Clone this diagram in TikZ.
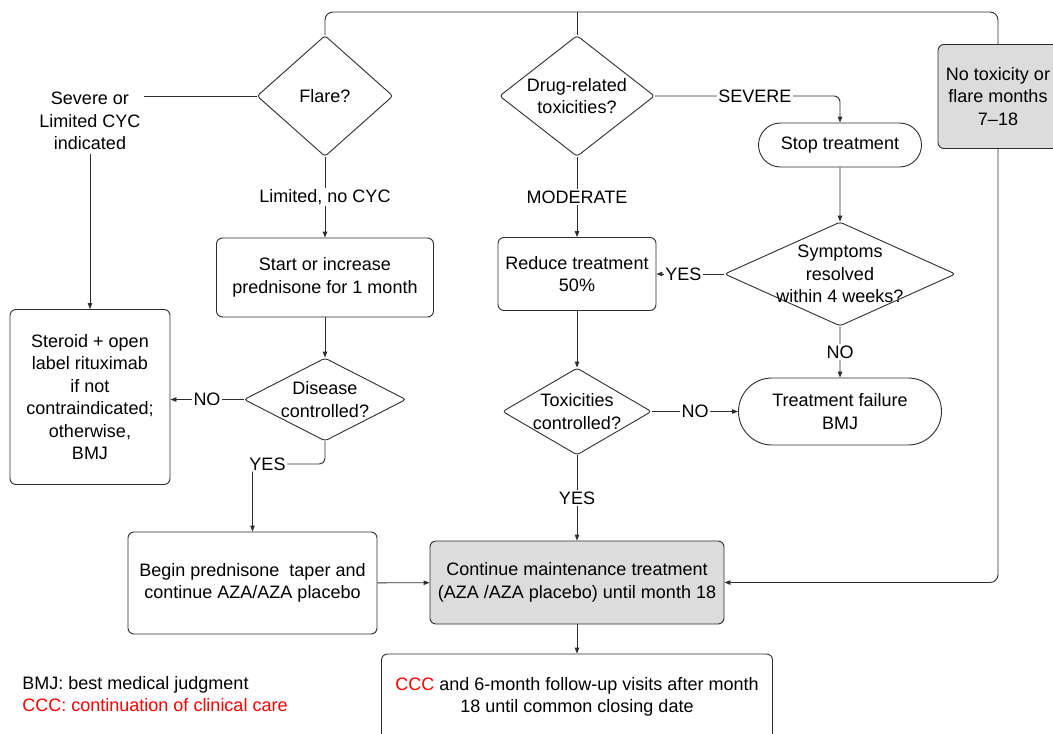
\documentclass[tikz,border=0pt]{standalone}
\usepackage{fontspec}
\setmainfont{Liberation Sans}
\usetikzlibrary{arrows.meta,shapes.geometric,shapes.misc}
\definecolor{boxgrey}{RGB}{220,220,220}
\definecolor{linegrey}{RGB}{45,45,45}

\begin{document}
\begin{tikzpicture}[x=1pt,y=-1pt,>={Triangle[length=6pt,width=4.5pt]},
    line width=0.9pt,color=linegrey,
    every node/.style={font=\fontsize{18}{22.5}\selectfont,align=center,text=black},
    proc/.style={draw,rectangle,rounded corners=6pt,inner sep=2pt},
    term/.style={draw,rounded rectangle,inner sep=2pt},
    decision/.style={draw,diamond,rounded corners=3pt,inner sep=0pt},
    lbl/.style={fill=white,inner sep=1.5pt}]
  \useasboundingbox (0,0) rectangle (1053,734);

  % left branch
  \node[decision,minimum width=136,minimum height=121,label=center:Flare?] (flare) at (325,96) {};
  \node (severe) at (90,121) {Severe or\\Limited CYC\\indicated};
  \node[proc,minimum width=217,minimum height=79] (start) at (325,277.5) {Start or increase\\prednisone for 1 month};
  \node[proc,minimum width=160,minimum height=175] (steroid) at (90,397) {Steroid + open\\label rituximab\\if not\\contraindicated;\\otherwise,\\BMJ};
  \node[decision,minimum width=162,minimum height=83,label=center:{Disease\\controlled?}] (disease) at (325,399.5) {};
  \node[proc,minimum width=249,minimum height=102] (begin) at (252.5,583) {Begin prednisone~ taper and\\continue AZA/AZA placebo};
  \coordinate (yesc) at (252.5,464);

  % middle and right branch
  \node[decision,minimum width=155,minimum height=121,label=center:{Drug-related\\toxicities?}] (drug) at (577,96) {};
  \node[term,minimum width=167,minimum height=44] (stop) at (840,145) {Stop treatment};
  \node[decision,minimum width=231,minimum height=104,label=center:{Symptoms\\resolved\\within 4 weeks?}] (symptoms) at (840,274) {};
  \node[proc,minimum width=158,minimum height=73] (reduce) at (577,274) {Reduce treatment\\50\%};
  \node[decision,minimum width=149,minimum height=87,label=center:{Toxicities\\controlled?}] (tox) at (577,411.5) {};
  \node[term,minimum width=207,minimum height=67] (fail) at (840,411.5) {Treatment failure\\BMJ};
  \node[proc,fill=boxgrey,minimum width=120,minimum height=104] (noflare) at (998,96.5) {No toxicity or\\flare months\\7--18};
  \coordinate (topr) at (998,12);

  % bottom
  \node[proc,fill=boxgrey,minimum width=294,minimum height=83] (cont) at (577,582.5) {Continue maintenance treatment\\(AZA /AZA placebo) until month 18};
  \node[proc,minimum width=391,minimum height=86] (ccc) at (577,697) {\textcolor{red}{CCC} and 6-month follow-up visits after month\\18 until common closing date};
  \node[anchor=west,align=left,inner sep=0pt] (legend) at (22,694) {BMJ: best medical judgment\\\textcolor{red}{CCC: continuation of clinical care}};

  \draw (flare.west) -- (flare.west -| severe.east);
  \path[->] (severe) edge (steroid);
  \path[->] (flare) edge node[lbl] {Limited, no CYC} (start);
  \path[->] (start) edge (disease);
  \path[->] (disease.west) edge node[lbl] {NO} (disease.west -| steroid.east);
  \draw[->,rounded corners=6pt] (disease.south) |- (yesc) node[lbl,xshift=15pt] {YES} -- (begin.north);
  \path[->] (begin) edge (cont);

  \draw[->,rounded corners=6pt] (drug.east) -| node[lbl,pos=0.27] {SEVERE} (stop.north);
  \path[->] (drug) edge node[lbl] {MODERATE} (reduce);
  \path[->] (stop) edge (symptoms);
  \path[->] (symptoms) edge node[lbl,pos=0.6] {YES} (reduce);
  \path[->] (symptoms) edge node[lbl] {NO} (fail);
  \path[->] (reduce) edge (tox);
  \path[->] (tox) edge node[lbl] {NO} (fail);
  \path[->] (tox) edge node[lbl] {YES} (cont);
  \path[->] (cont) edge (ccc);

  \draw[rounded corners=8pt] (flare.north) |- (topr) -- (noflare.north);
  \draw (drug.north) -- (drug.north |- topr);
  \draw[->,rounded corners=8pt] (noflare.south) |- (cont.east);
\end{tikzpicture}
\end{document}
